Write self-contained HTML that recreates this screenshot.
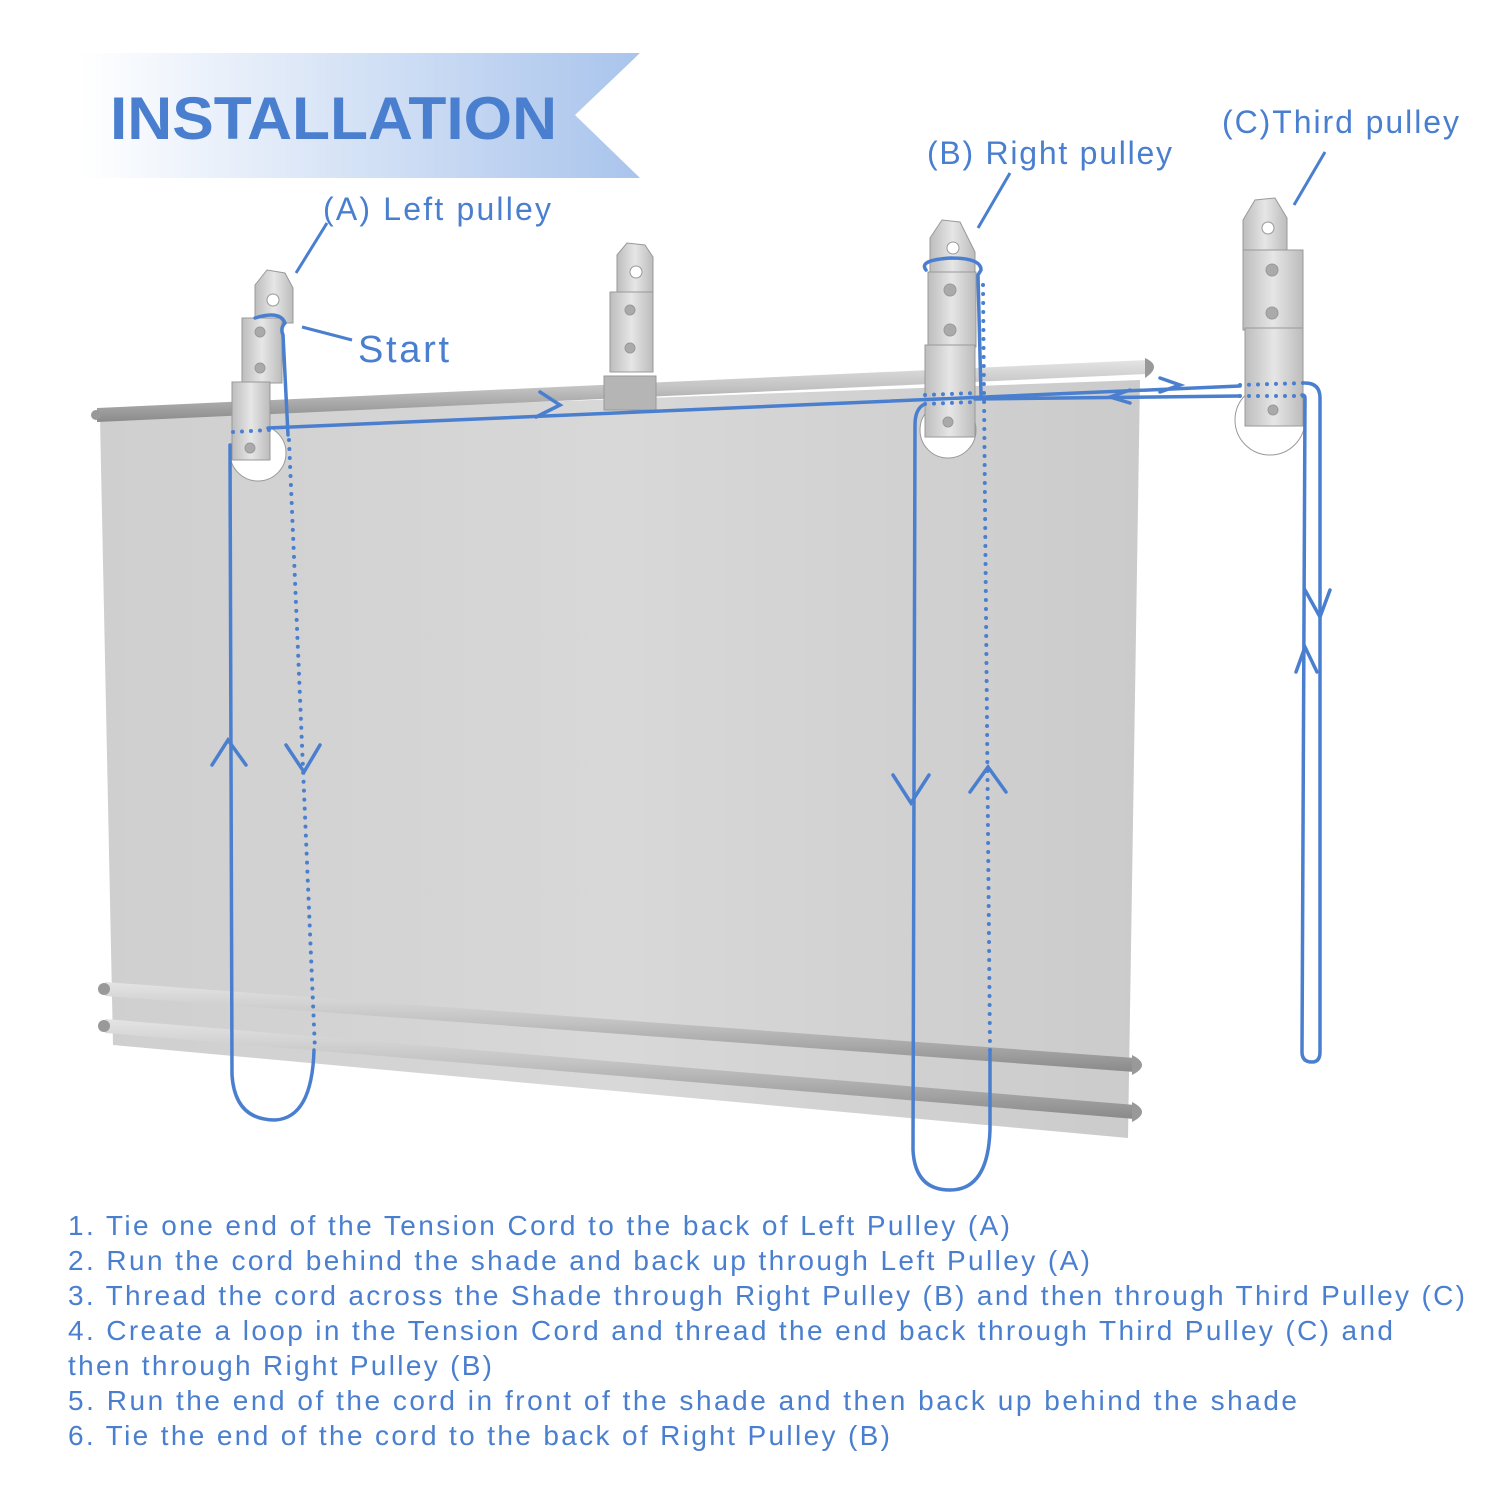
<!DOCTYPE html>
<html><head><style>
body{margin:0;background:#fff;width:1500px;height:1500px;overflow:hidden;font-family:"Liberation Sans",sans-serif}
svg{position:absolute;left:0;top:0}
</style></head><body>
<svg width="1500" height="1500" viewBox="0 0 1500 1500">
<defs>
<linearGradient id="ban" x1="0" x2="1"><stop offset="0" stop-color="#fff"/><stop offset="1" stop-color="#a9c4ec"/></linearGradient>
<linearGradient id="sh" x1="0" x2="1"><stop offset="0" stop-color="#cfcfcf"/><stop offset="0.5" stop-color="#d8d8d8"/><stop offset="1" stop-color="#cbcbcb"/></linearGradient>
<linearGradient id="rod" x1="0" y1="0" x2="0" y2="1"><stop offset="0" stop-color="#e4e4e4"/><stop offset="0.45" stop-color="#c2c2c2"/><stop offset="1" stop-color="#8a8a8a"/></linearGradient>
<linearGradient id="met" x1="0" x2="1"><stop offset="0" stop-color="#bdbdbd"/><stop offset="0.5" stop-color="#e6e6e6"/><stop offset="1" stop-color="#bcbcbc"/></linearGradient>
</defs>
<polygon points="80,53 640,53 575,115 640,178 80,178" fill="url(#ban)"/>
<text x="110" y="139" font-size="60" font-weight="bold" fill="#4a7fcf" textLength="447" lengthAdjust="spacingAndGlyphs">INSTALLATION</text>
<g fill="#4a7fcf" font-size="32">
<text x="323" y="220" textLength="228">(A) Left pulley</text>
<text x="927" y="164" textLength="245">(B) Right pulley</text>
<text x="1222" y="133" textLength="237">(C)Third pulley</text>
<text x="358" y="362" font-size="38" textLength="91">Start</text>
</g>
<g stroke="#4a7fcf" stroke-width="3" fill="none">
<line x1="327" y1="223" x2="296" y2="273"/>
<line x1="1010" y1="173" x2="978" y2="228"/>
<line x1="1325" y1="152" x2="1294" y2="205"/>
<line x1="302" y1="327" x2="352" y2="340"/>
</g>
<polygon points="100,418 1140,380 1128,1138 113,1045" fill="url(#sh)"/>
<g>
<polygon points="97,408 1148,360 1148,374 97,422" fill="url(#rod)"/>
<circle cx="96" cy="415" r="5" fill="#999"/>
<path d="M1145,358 q18,8 0,20z" fill="#999"/>
<polygon points="105,982 1135,1058 1135,1072 105,996" fill="url(#rod)"/>
<circle cx="104" cy="989" r="6" fill="#999"/>
<path d="M1132,1055 q20,10 0,20z" fill="#999"/>
<polygon points="105,1019 1135,1105 1135,1119 105,1033" fill="url(#rod)"/>
<circle cx="104" cy="1026" r="6" fill="#999"/>
<path d="M1132,1102 q20,10 0,20z" fill="#999"/>
</g>
<g stroke="#999" stroke-width="1">
<circle cx="258" cy="453" r="28" fill="#fff"/>
<path d="M255,285 l12,-15 l18,3 l8,15 v35 h-38z" fill="url(#met)"/>
<circle cx="273" cy="300" r="6" fill="#fff"/>
<rect x="242" y="318" width="40" height="65" fill="url(#met)"/>
<rect x="232" y="382" width="38" height="78" fill="url(#met)"/>
<circle cx="250" cy="448" r="5" fill="#aaa"/>
<circle cx="260" cy="332" r="5" fill="#aaa"/><circle cx="260" cy="368" r="5" fill="#aaa"/>
<path d="M617,255 l10,-12 l18,2 l8,12 v40 h-36z" fill="url(#met)"/>
<circle cx="636" cy="272" r="6" fill="#fff"/>
<rect x="610" y="292" width="43" height="80" fill="url(#met)"/>
<circle cx="630" cy="310" r="5" fill="#aaa"/><circle cx="630" cy="348" r="5" fill="#aaa"/>
<path d="M604,376 h52 v34 h-52z" fill="#b5b5b5"/>
<circle cx="948" cy="430" r="28" fill="#fff"/>
<path d="M930,238 l12,-18 l18,2 l15,30 v25 h-45z" fill="url(#met)"/>
<circle cx="953" cy="248" r="6" fill="#fff"/>
<rect x="928" y="272" width="48" height="75" fill="url(#met)"/>
<rect x="925" y="345" width="50" height="92" fill="url(#met)"/>
<circle cx="950" cy="290" r="6" fill="#aaa"/><circle cx="950" cy="330" r="6" fill="#aaa"/><circle cx="948" cy="422" r="5" fill="#aaa"/>
<circle cx="1270" cy="420" r="35" fill="#fff"/>
<path d="M1243,220 l12,-20 l20,-2 l12,20 v35 h-44z" fill="url(#met)"/>
<circle cx="1268" cy="228" r="6" fill="#fff"/>
<rect x="1243" y="250" width="60" height="80" fill="url(#met)"/>
<rect x="1245" y="328" width="58" height="98" fill="url(#met)"/>
<circle cx="1272" cy="270" r="6" fill="#aaa"/><circle cx="1272" cy="313" r="6" fill="#aaa"/><circle cx="1273" cy="410" r="5" fill="#aaa"/>
</g>
<g stroke="#4a7fcf" stroke-width="3.5" fill="none" stroke-linecap="round">
<path d="M255,318 q25,-8 30,5 q-5,5 -2,12 l5,100"/>
<path d="M268,428 L1240,386"/>
<path d="M230,445 L232,1075 Q235,1120 275,1120 Q312,1118 314,1050"/>
<path d="M926,270 q-8,-10 25,-12 q30,0 30,12 l-3,5 l3,120"/>
<path d="M1305,383 q15,0 15,15 L1320,1052 q0,10 -8,10 q-10,0 -10,-10 L1305,398 q0,-3 -3,-3"/>
<path d="M1240,396 L975,399"/>
<path d="M923,405 q-8,5 -8,20 L913,1150 Q915,1190 950,1190 Q988,1190 990,1130 L990,1050"/>
<path d="M540,392 l20,13 l-24,12 M1160,378 l20,7 l-20,7 M1130,390 l-20,7 l20,6"/>
<path d="M212,765 l16,-25 l18,25 M286,745 l18,27 l16,-27 M893,775 l18,28 l18,-28 M970,792 l18,-25 l18,25 M1305,590 l15,27 l10,-27 M1296,672 l9,-25 l12,25"/>
</g>
<g stroke="#4a7fcf" stroke-width="4" fill="none" stroke-dasharray="0 9" stroke-linecap="round">
<path d="M289,440 L315,1050"/>
<path d="M233,432 L270,430"/>
<path d="M983,285 L990,1050"/>
<path d="M925,395 L975,393 M925,404 L975,402"/>
<path d="M1240,385 L1305,383 M1240,396 L1305,396"/>
</g>
<g fill="#4a7fcf" font-size="28">
<text x="68" y="1235" textLength="942">1. Tie one end of the Tension Cord to the back of Left Pulley (A)</text>
<text x="68" y="1270" textLength="1022">2. Run the cord behind the shade and back up through Left Pulley (A)</text>
<text x="68" y="1305" textLength="1397">3. Thread the cord across the Shade through Right Pulley (B) and then through Third Pulley (C)</text>
<text x="68" y="1340" textLength="1325">4. Create a loop in the Tension Cord and thread the end back through Third Pulley (C) and</text>
<text x="68" y="1375" textLength="424">then through Right Pulley (B)</text>
<text x="68" y="1410" textLength="1229">5. Run the end of the cord in front of the shade and then back up behind the shade</text>
<text x="68" y="1445" textLength="822">6. Tie the end of the cord to the back of Right Pulley (B)</text>
</g>
</svg>
</body></html>
